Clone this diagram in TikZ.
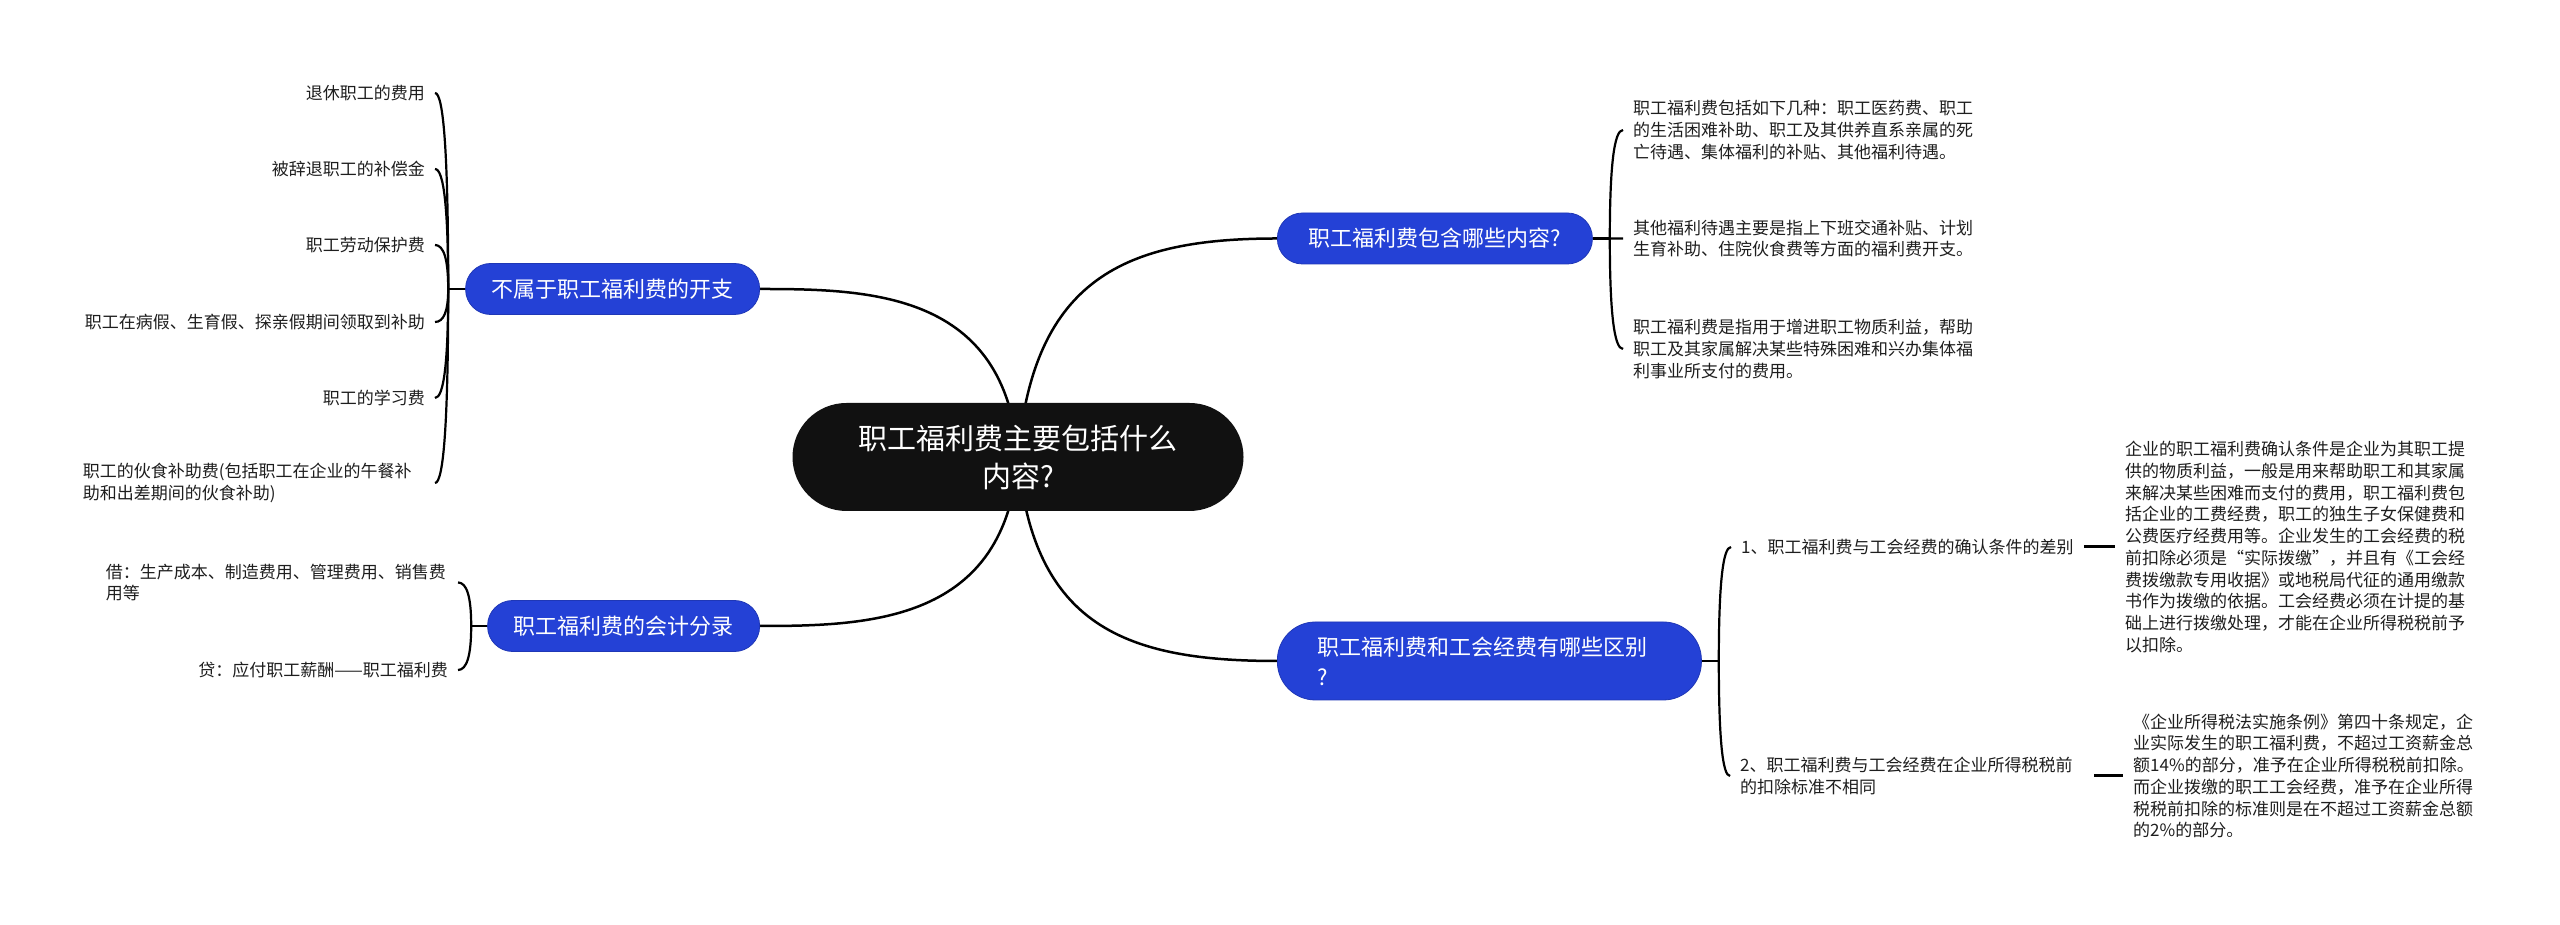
\documentclass[tikz,border=0pt]{standalone}
\usepackage{fontspec}
\setmainfont{Noto Sans CJK SC}
\usetikzlibrary{calc,backgrounds}
\definecolor{topicblue}{RGB}{36,65,214}
\definecolor{rootblack}{RGB}{17,17,17}
\definecolor{leafink}{RGB}{30,30,30}
\tikzset{
  rootnode/.style={rectangle,rounded corners=54pt,fill=rootblack,text=white,
    minimum width=451pt,minimum height=108pt,align=center,
    font=\fontsize{29}{38}\selectfont},
  topic/.style={rectangle,rounded corners=25pt,fill=topicblue,draw=topicblue!85!black,
    line width=0.8pt,text=white,inner xsep=26pt,minimum height=51pt,
    font=\fontsize{22}{30}\selectfont},
  leaf/.style={text=leafink,inner xsep=10pt,inner ysep=2pt,align=left,
    font=\fontsize{17}{21.7}\selectfont},
  branch/.style={line width=2.5pt},
  twig/.style={line width=2.2pt},
  link/.style={line width=3pt}
}
\begin{document}
\begin{tikzpicture}[x=1pt,y=1pt]
  \useasboundingbox (0,0) rectangle (2560,925);
  % centre and main topics
  \node[rootnode] (root) at (1018,468) {职工福利费主要包括什么\\内容?};
  \node[topic,anchor=east] (nb) at (760,636) {不属于职工福利费的开支};
  \node[topic,anchor=east] (kj) at (760,299) {职工福利费的会计分录};
  \node[topic,anchor=west,minimum width=315pt] (bh) at (1277,686.5) {职工福利费包含哪些内容?};
  \node[topic,anchor=west,text width=344pt,align=left,inner xsep=40pt,
    minimum height=78pt,rounded corners=38pt] (qb) at (1277,264) {职工福利费和工会经费有哪些区别\\?};

  % left upper
  \node[leaf,anchor=east] (a1) at (435,832) {退休职工的费用};
  \node[leaf,anchor=east] (a2) at (435,756) {被辞退职工的补偿金};
  \node[leaf,anchor=east] (a3) at (435,680) {职工劳动保护费};
  \node[leaf,anchor=east] (a4) at (435,603) {职工在病假、生育假、探亲假期间领取到补助};
  \node[leaf,anchor=east] (a5) at (435,527) {职工的学习费};
  \node[leaf,anchor=east,text width=342pt] (a6) at (435,442) {职工的伙食补助费(包括职工在企业的午餐补\\助和出差期间的伙食补助)};

  % left lower
  \node[leaf,anchor=east,text width=342pt] (k1) at (458,342.5) {借：生产成本、制造费用、管理费用、销售费\\用等};
  \node[leaf,anchor=east] (k2) at (458,255) {贷：应付职工薪酬——职工福利费};

  % right upper
  \node[leaf,anchor=west] (b1) at (1623,795) {职工福利费包括如下几种：职工医药费、职工\\的生活困难补助、职工及其供养直系亲属的死\\亡待遇、集体福利的补贴、其他福利待遇。};
  \node[leaf,anchor=west] (b2) at (1623,686.5) {其他福利待遇主要是指上下班交通补贴、计划\\生育补助、住院伙食费等方面的福利费开支。};
  \node[leaf,anchor=west] (b3) at (1623,576) {职工福利费是指用于增进职工物质利益，帮助\\职工及其家属解决某些特殊困难和兴办集体福\\利事业所支付的费用。};

  % right lower
  \node[leaf,anchor=west] (q1) at (1731,378) {1、职工福利费与工会经费的确认条件的差别};
  \node[leaf,anchor=west,text width=344pt] (q2) at (1730,149) {2、职工福利费与工会经费在企业所得税税前\\的扣除标准不相同};
  \node[leaf,anchor=west] (g1) at (2115,378) {企业的职工福利费确认条件是企业为其职工提\\供的物质利益，一般是用来帮助职工和其家属\\来解决某些困难而支付的费用，职工福利费包\\括企业的工费经费，职工的独生子女保健费和\\公费医疗经费用等。企业发生的工会经费的税\\前扣除必须是“实际拨缴”，并且有《工会经\\费拨缴款专用收据》或地税局代征的通用缴款\\书作为拨缴的依据。工会经费必须在计提的基\\础上进行拨缴处理，才能在企业所得税税前予\\以扣除。};
  \node[leaf,anchor=west] (g2) at (2123,149) {《企业所得税法实施条例》第四十条规定，企\\业实际发生的职工福利费，不超过工资薪金总\\额14\%的部分，准予在企业所得税税前扣除。\\而企业拨缴的职工工会经费，准予在企业所得\\税税前扣除的标准则是在不超过工资薪金总额\\的2\%的部分。};

  % junctions
  \coordinate (j1) at ([xshift=-17pt]nb.west);
  \coordinate (j3) at ([xshift=-16pt]kj.west);
  \coordinate (j2) at ([xshift=17pt]bh.east);
  \coordinate (j4) at ([xshift=17pt]qb.east);

  \begin{scope}[on background layer]
    \draw[branch] (root.center) .. controls +(-12,165) and +(110,0) .. (nb.east);
    \draw[branch] (root.center) .. controls +(-12,-165) and +(110,0) .. (kj.east);
    \draw[branch] (root.center) .. controls +(15,180) and +(-150,0) .. (bh.west);
    \draw[branch] (root.center) .. controls +(15,-170) and +(-150,0) .. (qb.west);
  \end{scope}

  \draw[twig] (nb.west) -- (j1);
  \foreach \n in {a1,a2,a3,a4,a5,a6}
    \draw[twig] (j1) .. controls ($(j1)!.67!(j1|-\n.east)$) and ($(\n.east)!.67!(j1|-\n.east)$) .. (\n.east);
  \draw[twig] (kj.west) -- (j3);
  \foreach \n in {k1,k2}
    \draw[twig] (j3) .. controls ($(j3)!.67!(j3|-\n.east)$) and ($(\n.east)!.67!(j3|-\n.east)$) .. (\n.east);
  \draw[twig] (bh.east) -- (j2);
  \foreach \n in {b1,b2,b3}
    \draw[twig] (j2) .. controls ($(j2)!.67!(j2|-\n.west)$) and ($(\n.west)!.67!(j2|-\n.west)$) .. (\n.west);
  \draw[twig] (qb.east) -- (j4);
  \foreach \n in {q1,q2}
    \draw[twig] (j4) .. controls ($(j4)!.67!(j4|-\n.west)$) and ($(\n.west)!.67!(j4|-\n.west)$) .. (\n.west);

  \draw[link] (q1.east) -- (g1.west);
  \draw[link] (q2.east) -- (g2.west);
\end{tikzpicture}
\end{document}
